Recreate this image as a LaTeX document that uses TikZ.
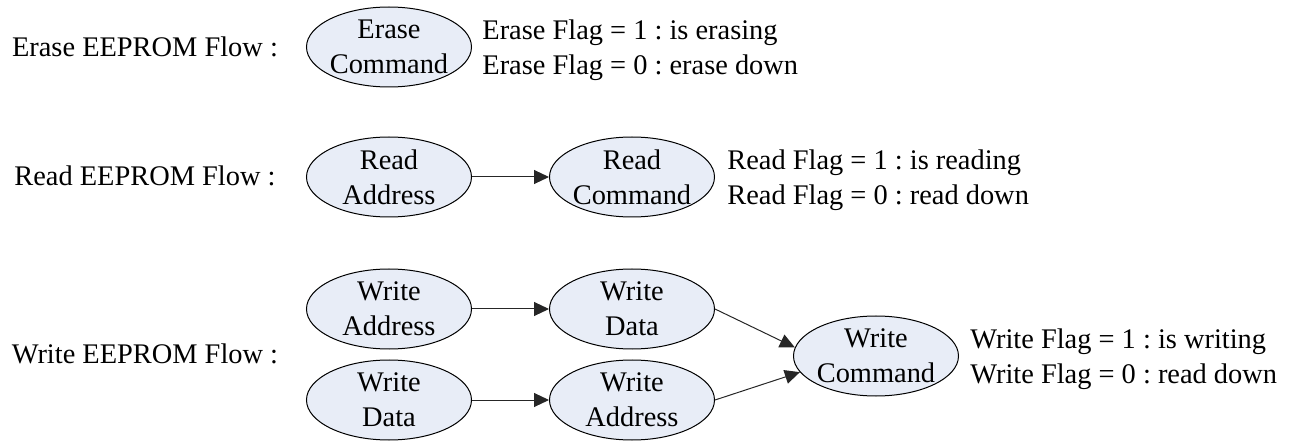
\documentclass[tikz,border=0pt]{standalone}
\usepackage{fontspec}
\setmainfont{Liberation Serif}
\usetikzlibrary{shapes.geometric,arrows.meta}
\definecolor{bubble}{RGB}{232,237,247}
\frenchspacing
\begin{document}
\begin{tikzpicture}[x=0.5pt,y=-0.5pt,
  every node/.style={font=\fontsize{14.2pt}{17.5pt}\selectfont},
  state/.style={ellipse,draw=black,line width=0.5pt,fill=bubble,
    minimum width=82.5pt,minimum height=40pt,inner xsep=-2pt,inner ysep=0pt,
    align=center},
  flowlabel/.style={anchor=center,inner sep=0pt},
  note/.style={anchor=west,align=left,inner sep=0pt},
  link/.style={draw=black!85,line width=0.5pt,
    -{Triangle[length=7.5pt,width=7pt]}}]
\useasboundingbox (0,0) rectangle (1298,444);

% flow titles
\node[flowlabel] (terase) at (145,47)  {Erase EEPROM Flow :};
\node[flowlabel] (tread)  at (145,176) {Read EEPROM Flow :};
\node[flowlabel] (twrite) at (145,354) {Write EEPROM Flow :};

% erase flow
\node[state] (ecmd) at (389,47) {Erase\\Command};
\node[note] (enote) at (482,50) {Erase Flag = 1 : is erasing\\Erase Flag = 0 : erase down};

% read flow
\node[state] (raddr) at (389,177) {Read\\Address};
\node[state] (rcmd)  at (632,177) {Read\\Command};
\node[note] (rnote) at (727,180) {Read Flag = 1 : is reading\\Read Flag = 0 : read down};
\draw[link] (raddr) -- (rcmd);

% write flow
\node[state] (waddr1) at (389,309) {Write\\Address};
\node[state] (wdata1) at (632,309) {Write\\Data};
\node[state] (wdata2) at (389,400) {Write\\Data};
\node[state] (waddr2) at (632,400) {Write\\Address};
\node[state] (wcmd)   at (876,356) {Write\\Command};
\node[note] (wnote) at (970,359) {Write Flag = 1 : is writing\\Write Flag = 0 : read down};
\draw[link] (waddr1) -- (wdata1);
\draw[link] (wdata2) -- (waddr2);
\draw[link] (wdata1.east) -- (wcmd.174);
\draw[link] (waddr2.east) -- (wcmd.192);
\end{tikzpicture}
\end{document}
